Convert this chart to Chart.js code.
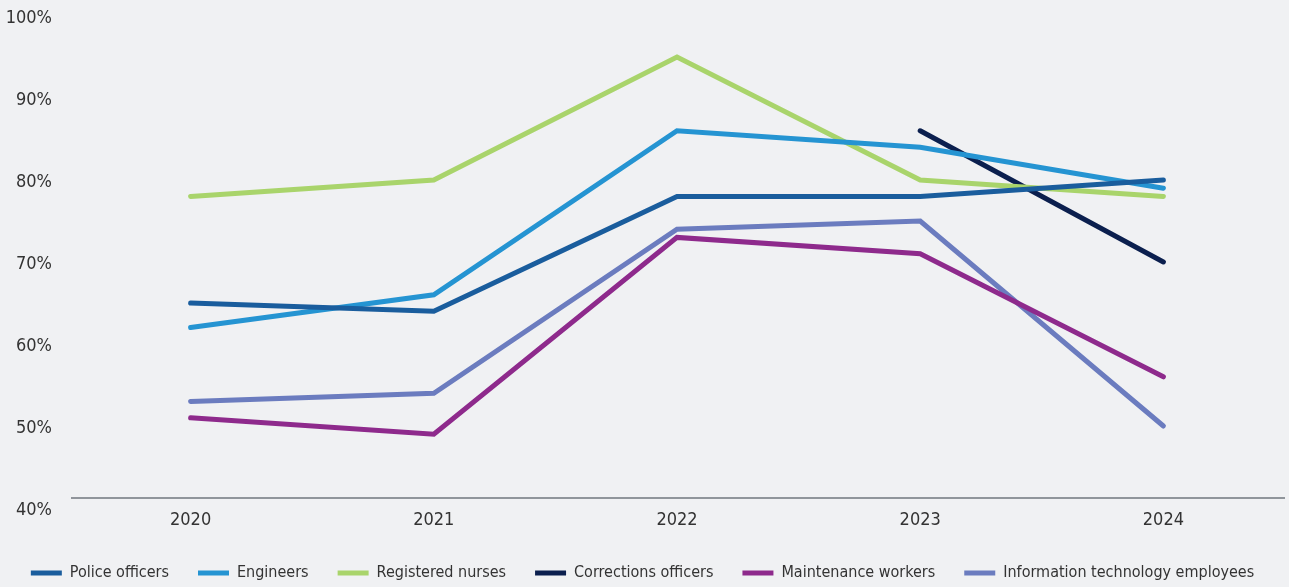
<!DOCTYPE html>
<html>
<head>
<meta charset="utf-8">
<script src="https://cdn.jsdelivr.net/npm/chart.js@4"></script>
<style>
    html, body { margin: 0; padding: 0; background: #f0f1f3; }
    #wrap { width: 1289px; height: 587px; }
</style>
</head>
<body>
<div id="wrap"><canvas id="jobChart"></canvas></div>
<script>
const years = ['2020', '2021', '2022', '2023', '2024'];
const yTicks = [40, 50, 60, 70, 80, 90, 100];

const policeOfficers = [65, 64, 78, 78, 80];
const engineers = [62, 66, 86, 84, 79];
const registeredNurses = [78, 80, 95, 80, 78];
const correctionsOfficers = [null, null, null, 86, 70];
const maintenanceWorkers = [51, 49, 73, 71, 56];
const itEmployees = [53, 54, 74, 75, 50];

const FONT = "'DejaVu Sans Condensed', 'DejaVu Sans', sans-serif";
const LEGEND_HEIGHT = 51;

function series(label, data, color) {
    return {
        label: label,
        data: data,
        borderColor: color,
        backgroundColor: color,
        borderWidth: 5,
        borderCapStyle: 'round',
        pointRadius: 0,
        pointHoverRadius: 0,
        pointStyle: 'line',
        tension: 0,
        fill: false
    };
}

// grey baseline sitting just above the 40% mark
const baseline = {
    id: 'baseline',
    beforeDatasetsDraw(chart) {
        const area = chart.chartArea;
        const c = chart.ctx;
        c.save();
        c.strokeStyle = '#90959b';
        c.lineWidth = 2;
        c.beginPath();
        c.moveTo(area.left + 2, area.bottom - 10);
        c.lineTo(area.right, area.bottom - 10);
        c.stroke();
        c.restore();
    }
};

// keep the legend band compact so the plot gets the height
const compactLegend = {
    id: 'compactLegend',
    beforeInit(chart) {
        const fit = chart.legend.fit;
        chart.legend.fit = function() {
            fit.call(this);
            this.height = LEGEND_HEIGHT;
        };
    }
};

new Chart(document.getElementById('jobChart'), {
    type: 'line',
    data: {
        labels: years,
        datasets: [
            series('Police officers', policeOfficers, '#1a5d9d'),
            series('Engineers', engineers, '#2594d2'),
            series('Registered nurses', registeredNurses, '#a9d46b'),
            series('Corrections officers', correctionsOfficers, '#0b1f4e'),
            series('Maintenance workers', maintenanceWorkers, '#8e2a8c'),
            series('Information technology employees', itEmployees, '#6b7cbf')
        ]
    },
    options: {
        responsive: true,
        maintainAspectRatio: false,
        animation: false,
        layout: {
            padding: { top: 16, right: 4, left: 0, bottom: 0 }
        },
        plugins: {
            legend: {
                position: 'bottom',
                labels: {
                    usePointStyle: true,
                    pointStyleWidth: 31,
                    boxHeight: 5,
                    padding: 29,
                    color: '#333333',
                    font: { family: FONT, size: 16 }
                }
            },
            tooltip: { enabled: false }
        },
        scales: {
            x: {
                offset: true,
                grid: { display: false, drawTicks: false },
                border: { display: false },
                afterFit(axis) {
                    axis.height = 28;
                },
                ticks: {
                    color: '#333333',
                    padding: 2,
                    font: { family: FONT, size: 18 }
                }
            },
            y: {
                min: 40,
                max: 100,
                grid: { display: false, drawTicks: false },
                border: { display: false },
                afterBuildTicks(axis) {
                    axis.ticks = yTicks.map(v => ({ value: v }));
                },
                afterFit(axis) {
                    axis.width = 69;
                    axis.paddingTop = 0;
                },
                ticks: {
                    color: '#333333',
                    padding: 17,
                    labelOffset: 2,
                    font: { family: FONT, size: 18 },
                    callback: v => v + '%'
                }
            }
        }
    },
    plugins: [baseline, compactLegend]
});
</script>
</body>
</html>
